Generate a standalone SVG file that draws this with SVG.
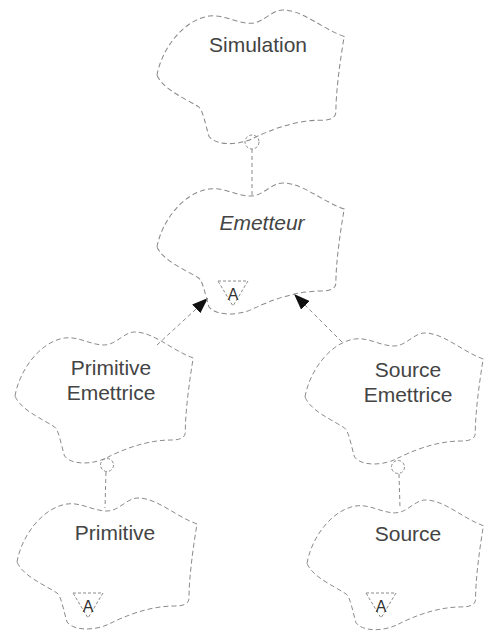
<svg xmlns="http://www.w3.org/2000/svg" width="487" height="632" viewBox="0 0 487 632">
<style>
.cloud{fill:none;stroke:#8a8a8a;stroke-width:1;stroke-dasharray:5 3;}
.lbl{font-family:"Liberation Sans",Arial,sans-serif;font-size:21px;fill:#444;text-anchor:middle;}
.abs{font-family:"Liberation Sans",Arial,sans-serif;font-size:16px;fill:#333;text-anchor:middle;}
.tri{fill:none;stroke:#8a8a8a;stroke-width:1;stroke-dasharray:3 2;}
.conn{fill:none;stroke:#8a8a8a;stroke-width:1;stroke-dasharray:4 3;}
.has{fill:#fff;stroke:#8a8a8a;stroke-width:1;stroke-dasharray:3 2;}
</style>
<defs>
<path id="cl" d="M 0,64 C 4,40 24,10 50,6 C 64,4 76,13 90,13 C 102,13 110,0 121,0 C 140,0 158,18 180,26 C 176,50 172,80 172,100 C 172,106 166,108 158,108 C 132,108 108,118 92,126 C 80,132 58,134 50,124 C 46,110 44,98 40,95 C 26,86 6,78 0,64 Z"/>
<g id="absA">
<path class="tri" d="M -15,0 L 15,0 L 0,25 Z"/>
<text class="abs" x="0" y="19">A</text>
</g>
<marker id="inh" markerWidth="17" markerHeight="12" refX="16" refY="6" orient="auto" markerUnits="userSpaceOnUse">
<path d="M0,0 L16,6 L0,12 Z" fill="#111"/>
</marker>
</defs>
<g id="connectors">
<circle class="has" cx="252" cy="142" r="7"/>
<line class="conn" x1="252" y1="149" x2="252" y2="196"/>
<circle class="has" cx="107" cy="465" r="6.5"/>
<line class="conn" x1="106" y1="472" x2="105" y2="508"/>
<circle class="has" cx="398" cy="467" r="6.5"/>
<line class="conn" x1="399" y1="474" x2="400" y2="508"/>
<line class="conn" x1="157" y1="345" x2="208" y2="298" marker-end="url(#inh)"/>
<line class="conn" x1="342" y1="342" x2="294" y2="294" marker-end="url(#inh)"/>
</g>
<g id="simulation">
<use href="#cl" class="cloud" transform="translate(157,10) scale(1.04,1.02)"/>
<text class="lbl" x="258" y="52">Simulation</text>
</g>
<g id="emetteur">
<use href="#cl" class="cloud" transform="translate(157,183) scale(1.04,1.0)"/>
<text class="lbl" x="262" y="230" font-style="italic">Emetteur</text>
<use href="#absA" x="233" y="281"/>
</g>
<g id="primitive-emettrice">
<use href="#cl" class="cloud" transform="translate(15,332) scale(0.99,1.0)"/>
<text class="lbl" x="111" y="375">Primitive</text>
<text class="lbl" x="111" y="400">Emettrice</text>
</g>
<g id="primitive">
<use href="#cl" class="cloud" transform="translate(17,498) scale(1.0,1.0)"/>
<text class="lbl" x="115" y="540">Primitive</text>
<use href="#absA" x="88" y="593"/>
</g>
<g id="source-emettrice">
<use href="#cl" class="cloud" transform="translate(305,333) scale(0.99,1.0)"/>
<text class="lbl" x="408" y="377">Source</text>
<text class="lbl" x="408" y="402">Emettrice</text>
</g>
<g id="source">
<use href="#cl" class="cloud" transform="translate(307,500) scale(0.98,0.99)"/>
<text class="lbl" x="408" y="541">Source</text>
<use href="#absA" x="381" y="593"/>
</g>
</svg>
